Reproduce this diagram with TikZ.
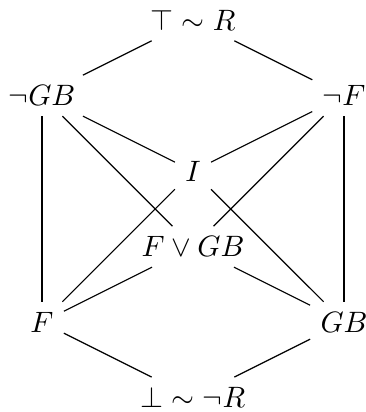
\documentclass[tikz,border=0pt]{standalone}
\begin{document}
\begin{tikzpicture}
\useasboundingbox (-0.5,-1.07) rectangle (3.85,3.84);

\node (top) at (1.8,3.6) {$\top\sim R$};
\node (ngb) at (0,2.7) {$\neg GB$};
\node (nf) at (3.6,2.7) {$\neg F$};
\node (i) at (1.8,1.8) {$I$};
\node (fgb) at (1.8,0.9) {$F\vee GB$};
\node (f) at (0,0) {$F$};
\node (gb) at (3.6,0) {$GB$};
\node (bot) at (1.8,-0.9) {$\bot\sim\neg R$};

\draw (top)--(ngb);
\draw (top)--(nf);

\draw (ngb)--(f);
\draw (nf)--(gb);

\draw (ngb)--(i);
\draw (ngb)--(fgb);
\draw (nf)--(i);
\draw (nf)--(fgb);

\draw (i)--(f);
\draw (i)--(gb);
\draw (fgb)--(f);
\draw (fgb)--(gb);

\draw (f)--(bot);
\draw (gb)--(bot);
\end{tikzpicture}
\end{document}
